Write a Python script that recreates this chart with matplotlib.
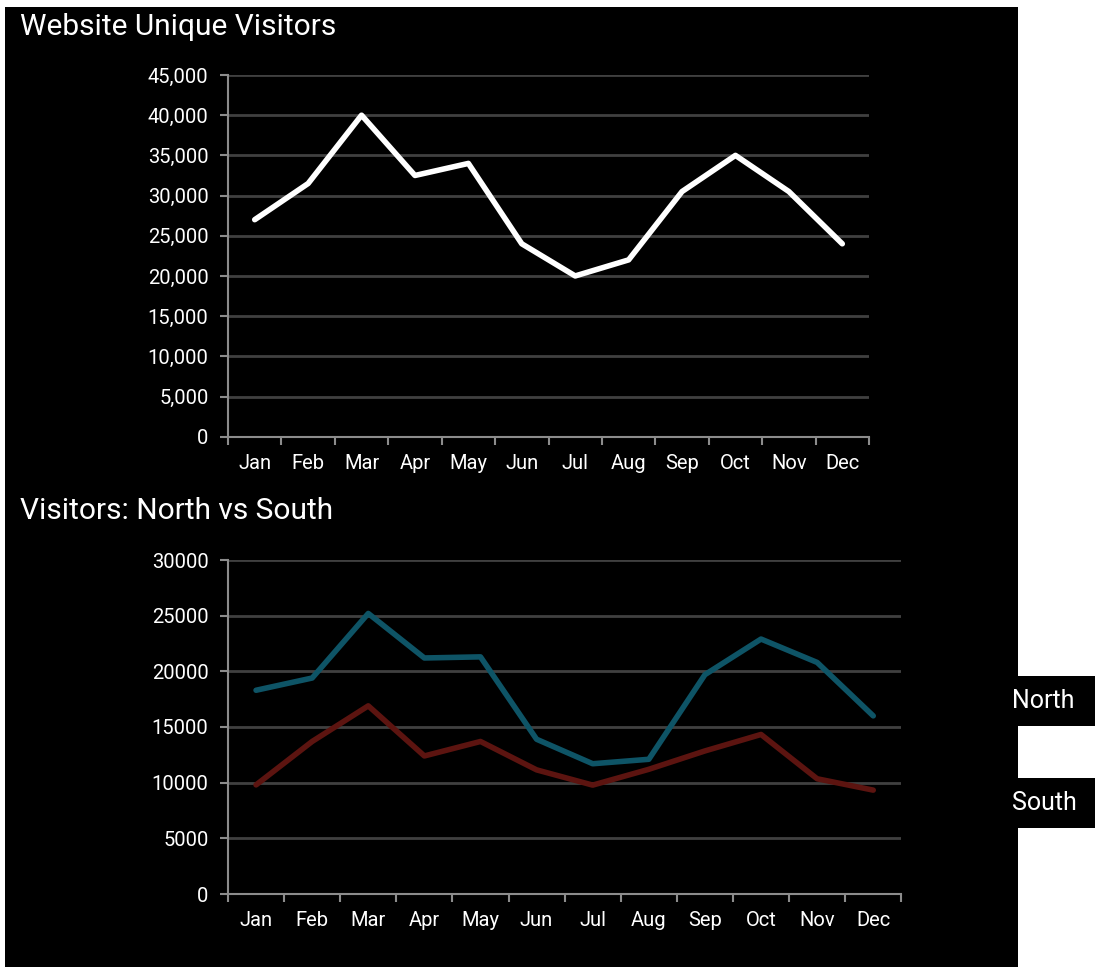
import numpy as np
import matplotlib
matplotlib.use("Agg")
import matplotlib.pyplot as plt
from matplotlib.patches import Rectangle
from matplotlib.ticker import FuncFormatter, FixedLocator

plt.rcParams['font.family'] = ['Roboto', 'DejaVu Sans']

months = ['Jan', 'Feb', 'Mar', 'Apr', 'May', 'Jun', 'Jul', 'Aug', 'Sep', 'Oct', 'Nov', 'Dec']
total_visitors = [27000, 31500, 40000, 32500, 34000, 24000, 20000, 22000, 30500, 35000, 30500, 24000]
north_visitors = [18300, 19400, 25200, 21200, 21300, 13900, 11700, 12100, 19700, 22900, 20800, 16000]
south_visitors = [9800, 13700, 16900, 12400, 13700, 11150, 9780, 11200, 12850, 14330, 10350, 9330]

W, H = 1095, 967
fig = plt.figure(figsize=(W / 100, H / 100), dpi=100)
fig.patch.set_facecolor('white')


def px_box(x0, y0, x1, y1):
    # pixel box (top-left origin) -> figure fraction rect
    return [x0 / W, 1 - y1 / H, (x1 - x0) / W, (y1 - y0) / H]


# black backdrop plus the two label tabs on the right
for box in [(5, 7, 1018, 967), (1018, 676, 1095, 726), (1018, 778, 1095, 828)]:
    l, b, w, h = px_box(*box)
    fig.patches.append(Rectangle((l, b), w, h, transform=fig.transFigure,
                                 facecolor='black', edgecolor='none', zorder=-5))

grid_col = '#404040'
spine_col = '#8c8c8c'
txt_col = 'white'
x = np.arange(1, 13)


def style_axes(ax):
    ax.set_facecolor('black')
    ax.patch.set_alpha(0)
    for s in ['top', 'right']:
        ax.spines[s].set_visible(False)
    for s in ['left', 'bottom']:
        ax.spines[s].set_color(spine_col)
        ax.spines[s].set_linewidth(1.5)
    ax.set_xlim(0.5, 12.5)
    ax.xaxis.set_major_locator(FixedLocator(np.arange(0.5, 13, 1)))
    ax.xaxis.set_minor_locator(FixedLocator(x))
    ax.set_xticklabels([], minor=False)
    ax.set_xticklabels(months, minor=True)
    ax.tick_params(axis='x', which='major', length=6, width=1.5, color=spine_col)
    ax.tick_params(axis='x', which='minor', length=0, pad=12.5, labelsize=14.5, labelcolor=txt_col)
    ax.tick_params(axis='y', length=6, width=1.5, color=spine_col, pad=8,
                   labelsize=14.5, labelcolor=txt_col)
    ax.yaxis.grid(True, color=grid_col, linewidth=2)
    ax.set_axisbelow(True)


# top chart
ax1 = fig.add_axes(px_box(228, 75, 869, 436.7))
style_axes(ax1)
ax1.plot(x, total_visitors, color='white', linewidth=4, solid_joinstyle='round',
         solid_capstyle='round', zorder=3)
ax1.set_ylim(0, 45000)
ax1.set_yticks(np.arange(0, 45001, 5000))
ax1.yaxis.set_major_formatter(FuncFormatter(lambda v, p: f'{int(v):,}'))

# bottom chart
ax2 = fig.add_axes(px_box(228, 560, 901.3, 894))
style_axes(ax2)
ax2.plot(x, north_visitors, color='#0e5466', linewidth=4, solid_joinstyle='round',
         solid_capstyle='round', zorder=3)
ax2.plot(x, south_visitors, color='#5c1410', linewidth=4, solid_joinstyle='round',
         solid_capstyle='round', zorder=3)
ax2.set_ylim(0, 30000)
ax2.set_yticks(np.arange(0, 30001, 5000))
ax2.yaxis.set_major_formatter(FuncFormatter(lambda v, p: f'{int(v)}'))

# titles and series labels
fig.text(20 / W, 1 - 27 / H, 'Website Unique Visitors', color=txt_col, fontsize=21.5,
         ha='left', va='center')
fig.text(20 / W, 1 - 511 / H, 'Visitors: North vs South', color=txt_col, fontsize=21.5,
         ha='left', va='center')
fig.text(1012 / W, 1 - 701 / H, 'North', color=txt_col, fontsize=18, ha='left', va='center')
fig.text(1012 / W, 1 - 803 / H, 'South', color=txt_col, fontsize=18, ha='left', va='center')

fig.savefig('out.png', dpi=100, facecolor=fig.get_facecolor())
